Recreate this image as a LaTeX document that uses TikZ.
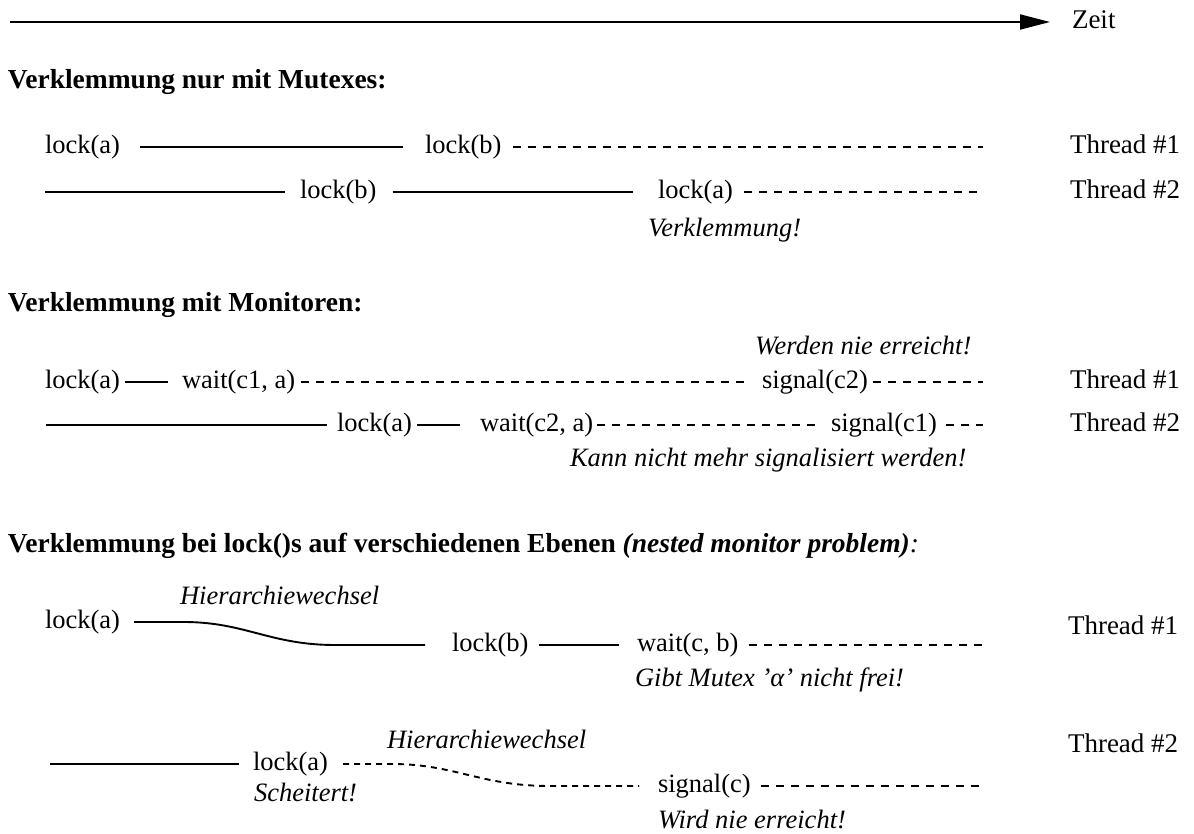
\documentclass[tikz,border=0pt]{standalone}
\usepackage{fontspec}
\setmainfont{Liberation Serif}
\usetikzlibrary{arrows.meta}
\begin{document}
\begin{tikzpicture}[x=1pt,y=-1pt,
  every node/.style={inner sep=0pt, outer sep=0pt, anchor=west, font=\fontsize{26.5}{32}\selectfont, text height=19pt, text depth=6pt},
  note/.style={font=\fontsize{26.5}{32}\selectfont\itshape},
  head/.style={font=\fontsize{27.5}{32}\selectfont\bfseries},
  thr/.style={font=\fontsize{27}{32}\selectfont},
  solidline/.style={line width=1.9pt},
  dashline/.style={line width=1.9pt, dash pattern=on 8pt off 7pt},
  dashcurve/.style={line width=1.9pt, dash pattern=on 6pt off 5pt},
]
\useasboundingbox (0,0) rectangle (1194,834);

% time axis
\coordinate (t0) at (10,22);
\node[thr] (zeit) at (1072,22) {Zeit};
\draw[solidline,-{Triangle[length=30pt,width=15pt]}] (t0) -- ([xshift=-22pt]zeit.west);

% section 1
\node[head] (h1) at (8,82) {Verklemmung nur mit Mutexes:};

\node (r1a) at (45,147) {lock(a)};
\node (r1b) at (425,147) {lock(b)};
\coordinate (r1e) at (983,147);
\node[thr] (t11) at (1070,147) {Thread \#1};
\draw[solidline] ([xshift=20pt]r1a.east) -- ([xshift=-22pt]r1b.west);
\draw[dashline] ([xshift=11pt]r1b.east) -- (r1e);

\coordinate (r2s) at (45,192);
\node (r2b) at (300,192) {lock(b)};
\node (r2a) at (658,192) {lock(a)};
\coordinate (r2e) at (983,192);
\node[thr] (t12) at (1070,192) {Thread \#2};
\draw[solidline] (r2s) -- ([xshift=-15pt]r2b.west);
\draw[solidline] ([xshift=16pt]r2b.east) -- ([xshift=-25pt]r2a.west);
\draw[dashline] ([xshift=11pt]r2a.east) -- (r2e);
\node[note] (n1) at (648,230) {Verklemmung!};

% section 2
\node[head] (h2) at (8,305) {Verklemmung mit Monitoren:};
\node[note] (n2) at (755,348) {Werden nie erreicht!};

\node (r3a) at (45,382) {lock(a)};
\node (r3w) at (182,382) {wait(c1, a)};
\node (r3s) at (762,382) {signal(c2)};
\coordinate (r3e) at (983,382);
\node[thr] (t21) at (1070,382) {Thread \#1};
\draw[solidline] ([xshift=5pt]r3a.east) -- ([xshift=-14pt]r3w.west);
\draw[dashline] ([xshift=6pt]r3w.east) -- ([xshift=-12pt]r3s.west);
\draw[dashline] ([xshift=5pt]r3s.east) -- (r3e);

\coordinate (r4s) at (46,425);
\node (r4a) at (337,425) {lock(a)};
\node (r4w) at (480,425) {wait(c2, a)};
\node (r4g) at (831,425) {signal(c1)};
\coordinate (r4e) at (983,425);
\node[thr] (t22) at (1070,425) {Thread \#2};
\draw[solidline] (r4s) -- ([xshift=-10pt]r4a.west);
\draw[solidline] ([xshift=5pt]r4a.east) -- ([xshift=-20pt]r4w.west);
\draw[dashline] ([xshift=4pt]r4w.east) -- ([xshift=-12pt]r4g.west);
\draw[dashline] ([xshift=9pt]r4g.east) -- (r4e);
\node[note] (n3) at (570,460) {Kann nicht mehr signalisiert werden!};

% section 3
\node[head] (h3) at (8,546) {Verklemmung bei lock()s auf verschiedenen Ebenen \textit{(nested monitor problem)}\mdseries\textit{:}};

\node (r5a) at (45,622) {lock(a)};
\node[note] (n4) at (180,598) {Hierarchiewechsel};
\node (r5b) at (452,645) {lock(b)};
\node (r5w) at (637,645) {wait(c, b)};
\coordinate (r5e) at (983,645);
\node[thr] (t31) at (1068,628) {Thread \#1};
\draw[solidline] ([xshift=14pt]r5a.east) -- (184,622) .. controls (245,622) and (270,645) .. (335,645) -- ([xshift=-27pt]r5b.west);
\draw[solidline] ([xshift=10pt]r5b.east) -- ([xshift=-18pt]r5w.west);
\draw[dashline] ([xshift=10pt]r5w.east) -- (r5e);
\node[note] (n5) at (635,680) {Gibt Mutex 'α' nicht frei!};

\coordinate (r6s) at (50,764);
\node (r6a) at (253,764) {lock(a)};
\node[note] (n6) at (254,795) {Scheitert!};
\node[note] (n7) at (387,742) {Hierarchiewechsel};
\node (r6g) at (658,786) {signal(c)};
\coordinate (r6e) at (983,786);
\node[thr] (t32) at (1068,746) {Thread \#2};
\draw[solidline] (r6s) -- ([xshift=-14pt]r6a.west);
\draw[dashcurve] ([xshift=15pt]r6a.east) -- (392,764) .. controls (455,764) and (480,786) .. (550,786) -- ([xshift=-19pt]r6g.west);
\draw[dashline] ([xshift=10pt]r6g.east) -- (r6e);
\node[note] (n8) at (658,822) {Wird nie erreicht!};
\end{tikzpicture}
\end{document}
